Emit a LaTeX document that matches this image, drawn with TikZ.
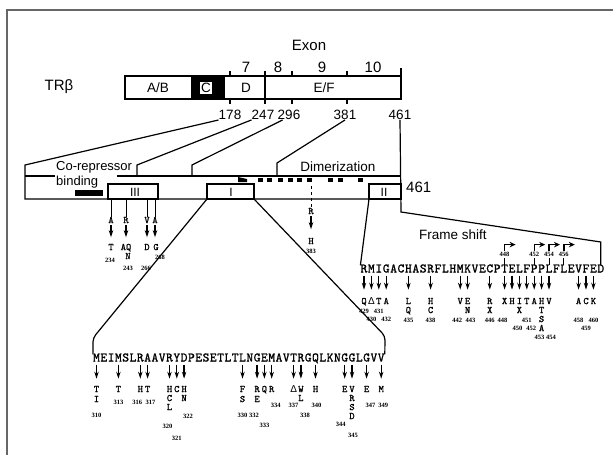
\documentclass[tikz,border=0pt]{standalone}
\usepackage{fontspec}
\setmainfont{Liberation Sans}
\newfontfamily\seqfont{lmmono10-regular}[Extension=.otf,FakeBold=1.2]
\newfontfamily\numfont{Liberation Serif}
\newfontfamily\grk{Liberation Sans}
\usetikzlibrary{arrows.meta}
\tikzset{
  ln/.style={line width=1.2pt},
  lbl/.style={font=\fontsize{13.5}{15}\selectfont,inner sep=0pt},
  seq/.style={font=\seqfont\fontsize{13}{13}\selectfont,inner sep=0pt,text height=7pt,text depth=0pt},
  mut/.style={font=\seqfont\fontsize{10}{10}\selectfont,inner sep=0pt,text height=6.2pt,text depth=0pt},
  num/.style={font=\numfont\bfseries\fontsize{6.5}{7}\selectfont,inner sep=0pt},
  dom/.style={font=\fontsize{12}{12}\selectfont,fill=white,inner sep=1pt},
  mutarr/.style={-{Stealth[length=7pt,width=4.4pt]},line width=1.3pt},
  fsarr/.style={-{Stealth[length=6pt,width=5.5pt]},line width=1.4pt},
}
\begin{document}
\begin{tikzpicture}[x=1pt,y=-1pt]
\useasboundingbox (0,0) rectangle (613,455);
\draw[black!60,line width=1.3pt] (7,455) -- (7,10) -- (613,10);

% receptor bar
\fill (191,76) rectangle (225,99);
\draw[line width=1.8pt] (125,76) rectangle (401,99);
\draw[ln] (265,71) -- (265,104);
\foreach \x in {230,292,347} \draw[ln] (\x,71) -- (\x,76) (\x,99) -- (\x,104);
\draw[ln] (401,68) -- (401,99);
\node[lbl,font=\fontsize{15}{16}\selectfont] (trb) at (59,87) {TRβ};
\node[lbl] (lab) at (158,88) {A/B};
\node[lbl,fill=white,inner sep=1pt] (lc) at (206,88) {C};
\node[lbl] (ld) at (246,88) {D};
\node[lbl] (lef) at (324,88) {E/F};
\node[lbl,font=\fontsize{15}{16}\selectfont] (exon) at (309,45) {Exon};
\foreach \x/\t in {246/7,278/8,322/9,373/10}
  \node[lbl,font=\fontsize{15}{16}\selectfont] (e\t) at (\x,67) {\t};
\foreach \x/\t in {230/178,263/247,289/296,345/381,400/461}
  \node[lbl] (n\t) at (\x,115) {\t};

% sequences
\foreach \c [count=\i] in {M,E,I,M,S,L,R,A,A,V,R,Y,D,P,E,S,E,T,L,T,L,N,G,E,M,A,V,T,R,G,Q,L,K,N,G,G,L,G,V,V}
  \node[seq] (a\i) at ({96.5+7.3*(\i-1)},358) {\c};
\foreach \c [count=\i] in {R,M,I,G,A,C,H,A,S,R,F,L,H,M,K,V,E,C,P,T,E,L,F,P,P,L,F,L,E,V,F,E,D}
  \node[seq] (b\i) at ({364+7.4*(\i-1)},269) {\c};

% ligand binding domain, expanded
\coordinate (k178) at (25,165);
\coordinate (k247) at (137,165);
\coordinate (k296) at (192,165);
\coordinate (k381) at (277,163);
\draw[ln] (n178.south west) -- (k178) -- (25,199) -- (401,199);
\draw[ln] (n247.south west) -- (k247) -- (137,176);
\draw[ln] ([xshift=5pt]n296.south west) -- (k296) -- (192,176);
\draw[ln] (n381.south) -- (k381) -- (277,176);
\draw[ln] (n461.south) -- (401,212) -- (b33 |- 0,242) -- (b33.north);
\draw[ln] (25,176) -- (55,176) (117,176) -- (401,176);
\fill (75,190) rectangle (103,196);
\fill (238,177) -- (247,179) -- (247,182) -- (238,182) -- cycle;
\foreach \x in {260,269,280,290,299,309,330,340,360}
  \fill (\x-2.5,178) rectangle (\x+2.5,182);
\draw[ln] (108,184) rectangle (158,199);
\draw[ln] (207,184) rectangle (254,199);
\draw[ln] (369,184) rectangle (401,199);
\node[dom] (bIII) at (135,192) {III};
\node[dom] (bI) at (231,192) {I};
\node[dom] (bII) at (384,192) {II};
\node[lbl,anchor=west,font=\fontsize{13}{14}\selectfont] (corep) at (56,167) {Co-repressor};
\node[lbl,anchor=west,font=\fontsize{13}{14}\selectfont] (bind) at (56,182) {binding};
\node[lbl] (dimer) at (338,167) {Dimerization};
\node[lbl,anchor=west,font=\fontsize{15}{16}\selectfont] (n461m) at (406,187) {461};
\node[lbl] (fshift) at (453,235) {Frame shift};

% funnels to the sequences
\draw[ln,rounded corners=4pt] (207,199) -- (93,338) -- (a1.north west);
\draw[ln,rounded corners=4pt] (254,199) -- (385,336) -- (a40.north east);
\draw[ln,rounded corners=3pt] (369,199) -- (b1.north west);

% cluster III
\foreach \x/\t [count=\k] in {111/A,126/R,147/V,155/A}
  \node[mut] (c\k) at (\x,220) {\t};
\foreach \k in {1,...,4} {
  \draw[line width=0.8pt] (c\k |- 0,199) -- (c\k.north);
  \draw[mutarr] ([yshift=-2pt]c\k.south) -- ++(0,12);
}
\node[mut] (t1) at (111,247) {T};
\node[mut] (t2) at (126,247) {AQ};
\node[mut] (t2b) at (128,256) {N};
\node[mut] (t3) at (147,247) {D};
\node[mut] (t4) at (156,247) {G};
\foreach \x/\y/\t in {110/260/234,128/268/243,146/268/266,160/257/268}
  \node[num] (nc\t) at (\x,\y) {\t};

% 383
\node[mut] (r383) at (311,211) {R};
\draw[dashed,line width=0.8pt] (311,186) -- (r383.north);
\draw[mutarr] ([yshift=-2pt]r383.south) -- ++(0,13);
\node[mut] (h383) at (311,241) {H};
\node[num] (n383) at (311,251) {383};

% cluster I
\foreach \i in {1,4,7,8,11,12,13,21,23,24,25,28,29,31,35,36,38,40}
  \draw[mutarr] ([yshift=-3pt]a\i.south) -- ++(0,14);
\foreach \i/\t/\y [count=\k] in {1/T/389,1/I/399,4/T/389,7/H/389,8/T/389,11/H/389,11/C/398,11/L/407,12/C/389,13/H/389,13/N/398,21/F/389,21/S/399,23/R/389,23/E/399,24/Q/389,25/R/389,28/{\grk Δ}/389,29/W/389,29/L/398,31/H/389,35/E/389,36/V/389,36/R/398,36/S/407,36/D/416,38/E/389,40/M/389}
  \node[mut] (ma\k) at (a\i |- 0,\y) {\t};
\foreach \i/\t/\y/\d [count=\k] in {1/310/415/0,4/313/402/0,7/316/402/-3,8/317/402/3,11/320/426/-2,12/321/438/0,13/322/416/4,21/330/415/0,23/332/415/-3,24/333/425/0,25/334/405/4,28/337/405/0,29/338/415/4,31/340/405/1,35/344/424/-4,36/345/435/1,38/347/405/4,40/349/405/2}
  \node[num] (na\k) at ([xshift=\d pt]a\i |- 0,\y) {\t};

% cluster II
\foreach \i in {1,2,3,4,7,10,14,15,18,20,21,22,23,24,25,26,30,31,32}
  \draw[mutarr] ([yshift=-3pt]b\i.south) -- ++(0,14);
\foreach \i/\t/\y [count=\k] in {1/Q/301,2/{\grk Δ}/301,3/T/301,4/A/301,7/L/301,7/Q/310,10/H/301,10/C/310,14/V/301,15/E/301,15/N/310,18/R/301,18/X/310,20/X/301,21/H/301,22/I/301,22/X/310,23/T/301,24/A/301,25/H/301,25/T/310,25/S/319,25/A/328,26/V/301,30/A/301,31/C/301,32/K/301}
  \node[mut] (mb\k) at (b\i |- 0,\y) {\t};
\foreach \i/\t/\y/\d [count=\k] in {1/429/311/0,3/431/311/0,2/430/319/0,4/432/319/0,7/435/320/0,10/438/320/0,14/442/320/-3,15/443/320/3,18/446/320/0,20/448/320/-2,23/451/320/0,22/450/328/-2,24/452/328/-3,25/453/337/-2,26/454/337/2,30/458/320/0,32/460/320/0,31/459/328/0}
  \node[num] (nb\k) at ([xshift=\d pt]b\i |- 0,\y) {\t};

% frame shifts
\foreach \i/\t in {20/448,24/452,26/454,28/456} {
  \node[num] (fs\i) at (b\i |- 0,254) {\t};
  \draw[line width=0.8pt] (b\i |- 0,258) -- (b\i.north);
  \draw[fsarr] ([yshift=1pt]fs\i.north) -- ++(0,-6) -- ++(11,0);
}
\end{tikzpicture}
\end{document}
